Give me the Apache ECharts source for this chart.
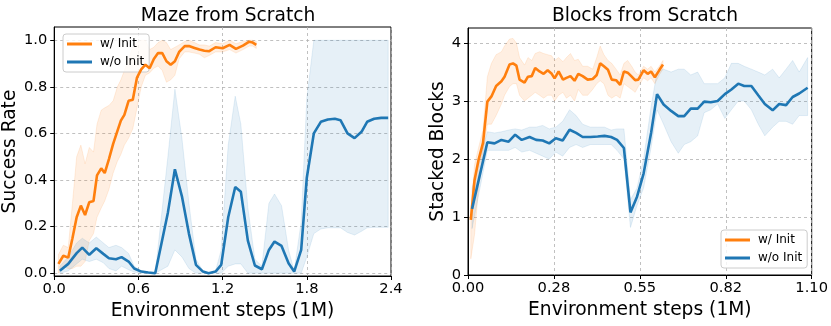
<!DOCTYPE html>
<html>
<head>
<meta charset="utf-8">
<script src="https://cdn.jsdelivr.net/npm/echarts@6/dist/echarts.min.js"></script>
<style>
  html, body { margin: 0; padding: 0; background: #fff; }
  #chart { width: 831px; height: 326px; }
</style>
</head>
<body>
<div id="chart"></div>
<script>
"use strict";
// ---- Maze from Scratch ----
const mazeInitX = [0.03, 0.065, 0.10, 0.13, 0.16, 0.19, 0.22, 0.25, 0.28, 0.305, 0.335, 0.36, 0.39, 0.42, 0.45, 0.475, 0.50, 0.53, 0.56, 0.59, 0.62, 0.65, 0.68, 0.71, 0.74, 0.77, 0.80, 0.83, 0.86, 0.89, 0.93, 0.96, 1.00, 1.035, 1.07, 1.105, 1.15, 1.20, 1.25, 1.295, 1.345, 1.39, 1.415, 1.44];
const mazeInitMean = [0.04, 0.075, 0.067, 0.15, 0.24, 0.29, 0.25, 0.305, 0.31, 0.42, 0.45, 0.43, 0.49, 0.555, 0.61, 0.655, 0.68, 0.74, 0.745, 0.84, 0.875, 0.895, 0.88, 0.92, 0.945, 0.945, 0.91, 0.895, 0.91, 0.95, 0.975, 0.975, 0.967, 0.96, 0.955, 0.953, 0.97, 0.966, 0.98, 0.963, 0.977, 0.994, 0.99, 0.98];
const mazeInitLo = [0.0, 0.03, 0.02, 0.02, 0.03, 0.03, 0.05, 0.14, 0.17, 0.24, 0.28, 0.31, 0.36, 0.43, 0.48, 0.51, 0.55, 0.58, 0.62, 0.71, 0.80, 0.85, 0.86, 0.88, 0.89, 0.87, 0.82, 0.83, 0.85, 0.92, 0.95, 0.95, 0.945, 0.94, 0.925, 0.935, 0.95, 0.95, 0.96, 0.945, 0.96, 0.975, 0.975, 0.965];
const mazeInitHi = [0.08, 0.12, 0.11, 0.30, 0.50, 0.55, 0.47, 0.54, 0.52, 0.64, 0.70, 0.71, 0.72, 0.74, 0.80, 0.83, 0.87, 0.92, 0.97, 0.99, 1.0, 1.0, 0.96, 0.97, 0.99, 1.0, 0.99, 0.96, 0.97, 0.98, 0.995, 1.0, 0.99, 0.98, 0.98, 0.975, 0.99, 0.985, 1.0, 0.985, 0.995, 1.0, 1.0, 0.995];

const mazeNoX = [0.04, 0.10, 0.16, 0.20, 0.25, 0.30, 0.35, 0.39, 0.44, 0.48, 0.53, 0.57, 0.62, 0.67, 0.72, 0.81, 0.86, 0.91, 0.96, 1.01, 1.06, 1.10, 1.15, 1.19, 1.24, 1.29, 1.33, 1.38, 1.43, 1.48, 1.53, 1.57, 1.62, 1.67, 1.71, 1.76, 1.80, 1.85, 1.90, 1.95, 2.00, 2.04, 2.09, 2.14, 2.19, 2.23, 2.28, 2.33, 2.38];
const mazeNoMean = [0.011, 0.04, 0.086, 0.11, 0.079, 0.107, 0.083, 0.064, 0.06, 0.069, 0.05, 0.02, 0.007, 0.003, 0.0, 0.26, 0.446, 0.33, 0.17, 0.036, 0.007, 0.0, 0.007, 0.036, 0.24, 0.37, 0.35, 0.14, 0.033, 0.017, 0.10, 0.136, 0.117, 0.043, 0.007, 0.10, 0.41, 0.60, 0.65, 0.66, 0.663, 0.657, 0.60, 0.58, 0.607, 0.65, 0.663, 0.667, 0.667];
const mazeNoLo = [0.0, 0.01, 0.04, 0.06, 0.05, 0.06, 0.045, 0.02, 0.01, 0.03, 0.015, 0.005, 0.0, 0.0, 0.0, 0.03, 0.10, 0.07, 0.02, 0.0, 0.0, 0.0, 0.0, 0.0, 0.03, 0.04, 0.04, 0.0, 0.0, 0.0, 0.0, 0.0, 0.0, 0.0, 0.0, 0.0, 0.07, 0.17, 0.19, 0.195, 0.195, 0.195, 0.175, 0.164, 0.18, 0.195, 0.197, 0.197, 0.197];
const mazeNoHi = [0.03, 0.07, 0.13, 0.15, 0.13, 0.155, 0.13, 0.11, 0.12, 0.11, 0.085, 0.03, 0.01, 0.005, 0.0, 0.50, 0.79, 0.58, 0.30, 0.06, 0.01, 0.0, 0.01, 0.10, 0.55, 0.76, 0.64, 0.28, 0.06, 0.03, 0.30, 0.34, 0.29, 0.10, 0.01, 0.22, 0.75, 1.0, 1.0, 1.0, 1.0, 1.0, 1.0, 1.0, 1.0, 1.0, 1.0, 1.0, 1.0];

// ---- Blocks from Scratch ----
const blocksInitX = [0.009, 0.021, 0.034, 0.048, 0.062, 0.075, 0.09, 0.107, 0.117, 0.133, 0.144, 0.155, 0.165, 0.181, 0.192, 0.204, 0.215, 0.229, 0.242, 0.255, 0.268, 0.277, 0.29, 0.304, 0.315, 0.328, 0.341, 0.353, 0.367, 0.383, 0.399, 0.412, 0.423, 0.435, 0.448, 0.46, 0.474, 0.487, 0.499, 0.511, 0.524, 0.535, 0.545, 0.562, 0.575, 0.586, 0.598, 0.612, 0.624];
const blocksInitMean = [0.95, 1.64, 1.99, 2.28, 2.99, 3.08, 3.26, 3.34, 3.42, 3.63, 3.65, 3.61, 3.37, 3.32, 3.42, 3.43, 3.57, 3.51, 3.47, 3.53, 3.47, 3.39, 3.51, 3.37, 3.40, 3.43, 3.35, 3.47, 3.43, 3.37, 3.38, 3.45, 3.65, 3.60, 3.54, 3.37, 3.36, 3.28, 3.51, 3.49, 3.42, 3.36, 3.37, 3.53, 3.47, 3.51, 3.41, 3.53, 3.63];
const blocksInitLo = [0.28, 0.7, 1.5, 2.1, 2.6, 2.6, 2.75, 2.95, 3.1, 3.25, 3.3, 3.3, 3.1, 3.0, 3.05, 3.1, 3.15, 3.1, 3.05, 3.1, 3.1, 3.0, 3.1, 3.15, 3.05, 3.1, 3.0, 3.2, 3.1, 3.1, 3.2, 3.3, 3.35, 3.3, 3.1, 3.05, 3.1, 3.05, 3.3, 3.25, 3.2, 3.15, 3.25, 3.4, 3.35, 3.4, 3.3, 3.45, 3.55];
const blocksInitHi = [1.1, 1.9, 2.2, 2.5, 3.42, 3.65, 3.8, 3.85, 3.95, 4.07, 4.08, 4.0, 3.75, 3.62, 3.75, 3.7, 3.82, 3.85, 3.82, 3.8, 3.78, 3.7, 3.75, 3.68, 3.75, 3.82, 3.7, 3.72, 3.6, 3.6, 3.55, 3.75, 3.95, 3.8, 3.7, 3.65, 3.55, 3.45, 3.65, 3.7, 3.6, 3.5, 3.45, 3.6, 3.55, 3.6, 3.5, 3.6, 3.7];

const blocksNoX = [0.013, 0.062, 0.085, 0.107, 0.13, 0.151, 0.172, 0.197, 0.218, 0.239, 0.26, 0.281, 0.303, 0.325, 0.346, 0.367, 0.392, 0.415, 0.437, 0.458, 0.477, 0.499, 0.52, 0.541, 0.562, 0.586, 0.605, 0.626, 0.65, 0.673, 0.692, 0.713, 0.735, 0.756, 0.777, 0.799, 0.822, 0.843, 0.865, 0.884, 0.907, 0.929, 0.95, 0.975, 0.996, 1.018, 1.039, 1.06, 1.087];
const blocksNoMean = [1.14, 2.29, 2.27, 2.33, 2.30, 2.42, 2.33, 2.38, 2.33, 2.32, 2.27, 2.36, 2.32, 2.505, 2.45, 2.38, 2.38, 2.39, 2.40, 2.38, 2.33, 2.19, 1.08, 1.35, 1.75, 2.45, 3.12, 2.94, 2.83, 2.74, 2.74, 2.87, 2.87, 2.99, 2.98, 3.0, 3.12, 3.2, 3.30, 3.26, 3.26, 3.10, 2.95, 2.84, 2.95, 2.93, 3.07, 3.13, 3.23];
const blocksNoLo = [0.8, 2.15, 2.15, 2.15, 2.15, 2.2, 2.12, 2.15, 2.1, 2.05, 2.0, 2.12, 2.05, 2.2, 2.25, 2.2, 2.25, 2.25, 2.25, 2.25, 2.15, 2.0, 0.82, 1.2, 1.5, 2.2, 2.85, 2.6, 2.3, 2.1, 2.25, 2.3, 2.4, 2.8, 2.85, 2.95, 2.7, 2.85, 3.0, 3.0, 2.85, 2.6, 2.4, 2.55, 2.65, 2.65, 2.6, 2.75, 2.75];
const blocksNoHi = [1.5, 2.47, 2.45, 2.47, 2.5, 2.52, 2.5, 2.55, 2.55, 2.58, 2.52, 2.55, 2.65, 2.85, 2.75, 2.6, 2.55, 2.55, 2.55, 2.5, 2.52, 2.52, 1.3, 1.5, 2.0, 2.9, 3.5, 3.55, 3.5, 3.55, 3.55, 3.45, 3.5, 3.3, 3.3, 3.3, 3.4, 3.65, 3.65, 3.6, 3.55, 3.5, 3.45, 3.55, 3.4, 3.55, 3.7, 3.5, 3.75];

const mazeYTicks = [0, 0.2, 0.4, 0.6, 0.8, 1.0];
const blocksYTicks = [0, 1, 2, 3, 4];
const blocksXLabels = ['0.00', '0.28', '0.55', '0.82', '1.10'];

const ORANGE = '#ff7f0e';
const BLUE = '#1f77b4';
const FONT = 'DejaVu Sans';

const pairs = (xs, ys) => xs.map((x, i) => [x, ys[i]]);

function meanLine(name, idx, xs, ys, color) {
  return {
    name: name, type: 'line', xAxisIndex: idx, yAxisIndex: idx,
    data: pairs(xs, ys), showSymbol: false, symbol: 'none',
    itemStyle: { color: color },
    lineStyle: { color: color, width: 2.6 }, z: 5
  };
}

// shaded spread between lo and hi, drawn as one polygon through the axes
function band(key, idx, xs, lo, hi, fill, edge) {
  return {
    name: key, type: 'custom', xAxisIndex: idx, yAxisIndex: idx,
    data: xs.map((x, i) => [x, lo[i], hi[i]]),
    encode: { x: 0, y: [1, 2] },
    silent: true, z: 2,
    renderItem: function (params, api) {
      if (params.dataIndex !== 0) return null;
      const top = xs.map((x, i) => api.coord([x, hi[i]]));
      const bot = xs.map((x, i) => api.coord([x, lo[i]])).reverse();
      return {
        type: 'polygon',
        shape: { points: top.concat(bot) },
        style: { fill: fill, stroke: edge, lineWidth: 1 }
      };
    }
  };
}

const tickText = { color: '#000', fontSize: 14.67, fontFamily: FONT };
const nameText = { color: '#000', fontSize: 18.67, fontFamily: FONT };
const dashed = { show: true, lineStyle: { color: '#b0b0b0', width: 0.8, type: [3, 3] } };

function xAxis(idx, max, interval, fmt) {
  return {
    type: 'value', gridIndex: idx, min: 0, max: max, interval: interval,
    name: 'Environment steps (1M)', nameLocation: 'middle', nameGap: 23,
    nameTextStyle: nameText,
    axisLine: { onZero: false, lineStyle: { color: '#000', width: 1 } },
    axisTick: { length: 4, lineStyle: { color: '#000' } },
    axisLabel: Object.assign({ margin: 6, formatter: fmt }, tickText),
    splitLine: dashed
  };
}

function yAxis(idx, name, min, max, ticks, gap, fmt) {
  return {
    type: 'value', gridIndex: idx, min: min, max: max,
    name: name, nameLocation: 'middle', nameGap: gap, nameTextStyle: nameText,
    axisLine: { onZero: false, lineStyle: { color: '#000', width: 1 } },
    axisTick: { length: 4, customValues: ticks, lineStyle: { color: '#000' } },
    axisLabel: Object.assign({ margin: 7, customValues: ticks, formatter: fmt }, tickText),
    splitLine: dashed
  };
}

function legend(left, top) {
  return {
    orient: 'vertical', left: left, top: top,
    data: ['w/ Init', 'w/o Init'],
    icon: 'rect', itemWidth: 25, itemHeight: 3, itemGap: 4,
    padding: [3, 5, 3, 4],
    borderColor: '#cccccc', borderWidth: 1, borderRadius: 3,
    backgroundColor: 'rgba(255,255,255,0.8)',
    textStyle: { color: '#000', fontSize: 12, fontFamily: FONT, lineHeight: 14, padding: [0, 0, 0, 3] }
  };
}

const chart = echarts.init(document.getElementById('chart'), null, { renderer: 'canvas' });

chart.setOption({
  animation: false,
  backgroundColor: '#fff',
  title: [
    { text: 'Maze from Scratch', left: 223, top: 2, textAlign: 'center',
      textStyle: { color: '#000', fontSize: 18.67, fontWeight: 'normal', fontFamily: FONT } },
    { text: 'Blocks from Scratch', left: 640, top: 2, textAlign: 'center',
      textStyle: { color: '#000', fontSize: 18.67, fontWeight: 'normal', fontFamily: FONT } }
  ],
  grid: [
    { left: 54, top: 27, width: 337, height: 249, show: true, borderColor: '#000', borderWidth: 1 },
    { left: 468, top: 28, width: 345, height: 247, show: true, borderColor: '#000', borderWidth: 1 }
  ],
  legend: [legend(63, 34), legend(721, 230)],
  xAxis: [
    xAxis(0, 2.4, 0.6, v => v.toFixed(1)),
    xAxis(1, 1.1, 0.275, v => blocksXLabels[Math.round(v / 0.275)])
  ],
  yAxis: [
    yAxis(0, 'Success Rate', -0.012, 1.057, mazeYTicks, 26, v => v.toFixed(1)),
    yAxis(1, 'Stacked Blocks', 0, 4.26, blocksYTicks, 20, v => String(v))
  ],
  series: [
    band('mazeInitBand', 0, mazeInitX, mazeInitLo, mazeInitHi, 'rgba(255,127,14,0.12)', 'rgba(255,127,14,0.12)'),
    band('mazeNoBand', 0, mazeNoX, mazeNoLo, mazeNoHi, 'rgba(31,119,180,0.11)', 'rgba(31,119,180,0.11)'),
    band('blocksInitBand', 1, blocksInitX, blocksInitLo, blocksInitHi, 'rgba(255,127,14,0.12)', 'rgba(255,127,14,0.12)'),
    band('blocksNoBand', 1, blocksNoX, blocksNoLo, blocksNoHi, 'rgba(31,119,180,0.11)', 'rgba(31,119,180,0.11)'),
    meanLine('w/ Init', 0, mazeInitX, mazeInitMean, ORANGE),
    meanLine('w/o Init', 0, mazeNoX, mazeNoMean, BLUE),
    meanLine('w/ Init', 1, blocksInitX, blocksInitMean, ORANGE),
    meanLine('w/o Init', 1, blocksNoX, blocksNoMean, BLUE)
  ]
});
</script>
</body>
</html>
